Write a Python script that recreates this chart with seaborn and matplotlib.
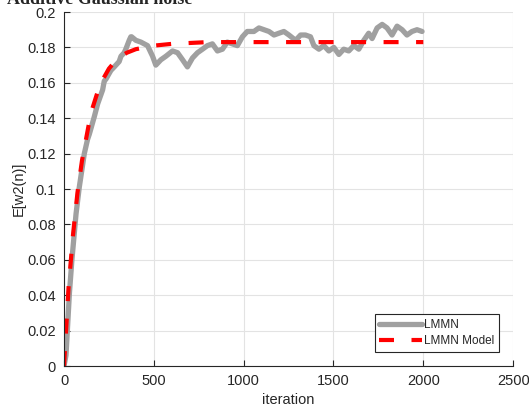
import numpy as np
import pandas as pd
import matplotlib
matplotlib.use("Agg")
import matplotlib.pyplot as plt
import seaborn as sns

# values
sim_iter = [0, 11, 30, 44, 67, 85, 113, 131, 141, 169, 187, 215, 224, 233, 261, 280,
            307, 317, 335, 344, 363, 372, 376, 400, 428, 465, 493, 511, 539, 567,
            604, 632, 660, 687, 715, 743, 771, 798, 826, 854, 882, 909, 937, 965,
            993, 1020, 1057, 1085, 1113, 1141, 1169, 1196, 1224, 1252, 1289, 1317,
            1344, 1372, 1391, 1419, 1446, 1474, 1502, 1530, 1557, 1585, 1613, 1641,
            1669, 1696, 1715, 1743, 1771, 1798, 1826, 1854, 1882, 1909, 1937, 1965, 1993]
sim_val = [0.0, 0.006, 0.041, 0.060, 0.086, 0.101, 0.120, 0.128, 0.131, 0.141, 0.148,
           0.156, 0.161, 0.162, 0.167, 0.169, 0.172, 0.175, 0.177, 0.179, 0.184, 0.186,
           0.186, 0.184, 0.183, 0.181, 0.175, 0.170, 0.173, 0.175, 0.178, 0.177, 0.173,
           0.169, 0.174, 0.177, 0.179, 0.181, 0.182, 0.178, 0.179, 0.183, 0.182, 0.181,
           0.186, 0.189, 0.189, 0.191, 0.190, 0.189, 0.187, 0.188, 0.189, 0.187, 0.184,
           0.187, 0.187, 0.186, 0.181, 0.179, 0.181, 0.178, 0.180, 0.176, 0.179, 0.178,
           0.181, 0.179, 0.184, 0.188, 0.185, 0.191, 0.193, 0.191, 0.187, 0.192, 0.190,
           0.187, 0.189, 0.190, 0.189]

model_iter = [0, 25, 50, 75, 100, 150, 200, 250, 300, 350, 400, 500, 600, 700, 800,
              1000, 1500, 2000]
model_val = [0.0, 0.044, 0.074, 0.098, 0.116, 0.143, 0.159, 0.168, 0.174, 0.177,
             0.179, 0.181, 0.182, 0.1825, 0.183, 0.183, 0.183, 0.183]

x_ticks = [0, 500, 1000, 1500, 2000, 2500]
y_ticks = [0, 0.02, 0.04, 0.06, 0.08, 0.1, 0.12, 0.14, 0.16, 0.18, 0.2]
y_labels = ["0", "0.02", "0.04", "0.06", "0.08", "0.1", "0.12", "0.14", "0.16", "0.18", "0.2"]

sns.set_theme(style="whitegrid")
plt.rcParams['font.family'] = ['Liberation Sans', 'DejaVu Sans']

sim = pd.DataFrame({'iteration': sim_iter, 'value': sim_val})
model = pd.DataFrame({'iteration': model_iter, 'value': model_val})

fig = plt.figure(figsize=(5.29, 4.07), dpi=100)
ax = fig.add_axes([0.121, 0.1007, 0.849, 0.8698])

sns.lineplot(data=sim, x='iteration', y='value', ax=ax, color='#a0a0a0',
             linewidth=3.8, label='LMMN', estimator=None, sort=False)
sns.lineplot(data=model, x='iteration', y='value', ax=ax, color='#ff0000',
             linewidth=3.0, label='LMMN Model', estimator=None, sort=False)
ax.lines[1].set_dashes([3.6, 4.2])

ax.set_xlim(0, 2500)
ax.set_ylim(0, 0.2)
ax.set_xticks(x_ticks)
ax.set_yticks(y_ticks)
ax.set_yticklabels(y_labels)
ax.tick_params(axis='both', direction='in', length=4, width=0.8, color='#262626',
               labelsize=10.5, labelcolor='#262626', pad=6, bottom=True, left=True)
ax.grid(True, color='#e3e3e3', linewidth=0.8)
for side in ['top', 'right']:
    ax.spines[side].set_visible(False)
for side in ['left', 'bottom']:
    ax.spines[side].set_color('#262626')
    ax.spines[side].set_linewidth(0.8)

ax.set_xlabel("iteration", fontsize=10.5, color='#262626', labelpad=3)
ax.set_ylabel("E[w2(n)]", fontsize=10.5, color='#262626', labelpad=1)

leg = ax.legend(loc='lower right', bbox_to_anchor=(0.969, 0.04), borderaxespad=0,
                fontsize=8.5, frameon=True, fancybox=False, edgecolor='#262626',
                framealpha=1, handlelength=3.6, borderpad=0.4, labelspacing=0.35,
                handletextpad=0.2)
leg.get_frame().set_linewidth(0.8)

fig.text(192 / 529, 1 - 4 / 407, "Additive Gaussian noise", ha='right', va='baseline',
         fontsize=13, fontweight='bold', family=['Liberation Serif', 'DejaVu Serif'])

fig.savefig("out.png", dpi=100)
plt.close()
